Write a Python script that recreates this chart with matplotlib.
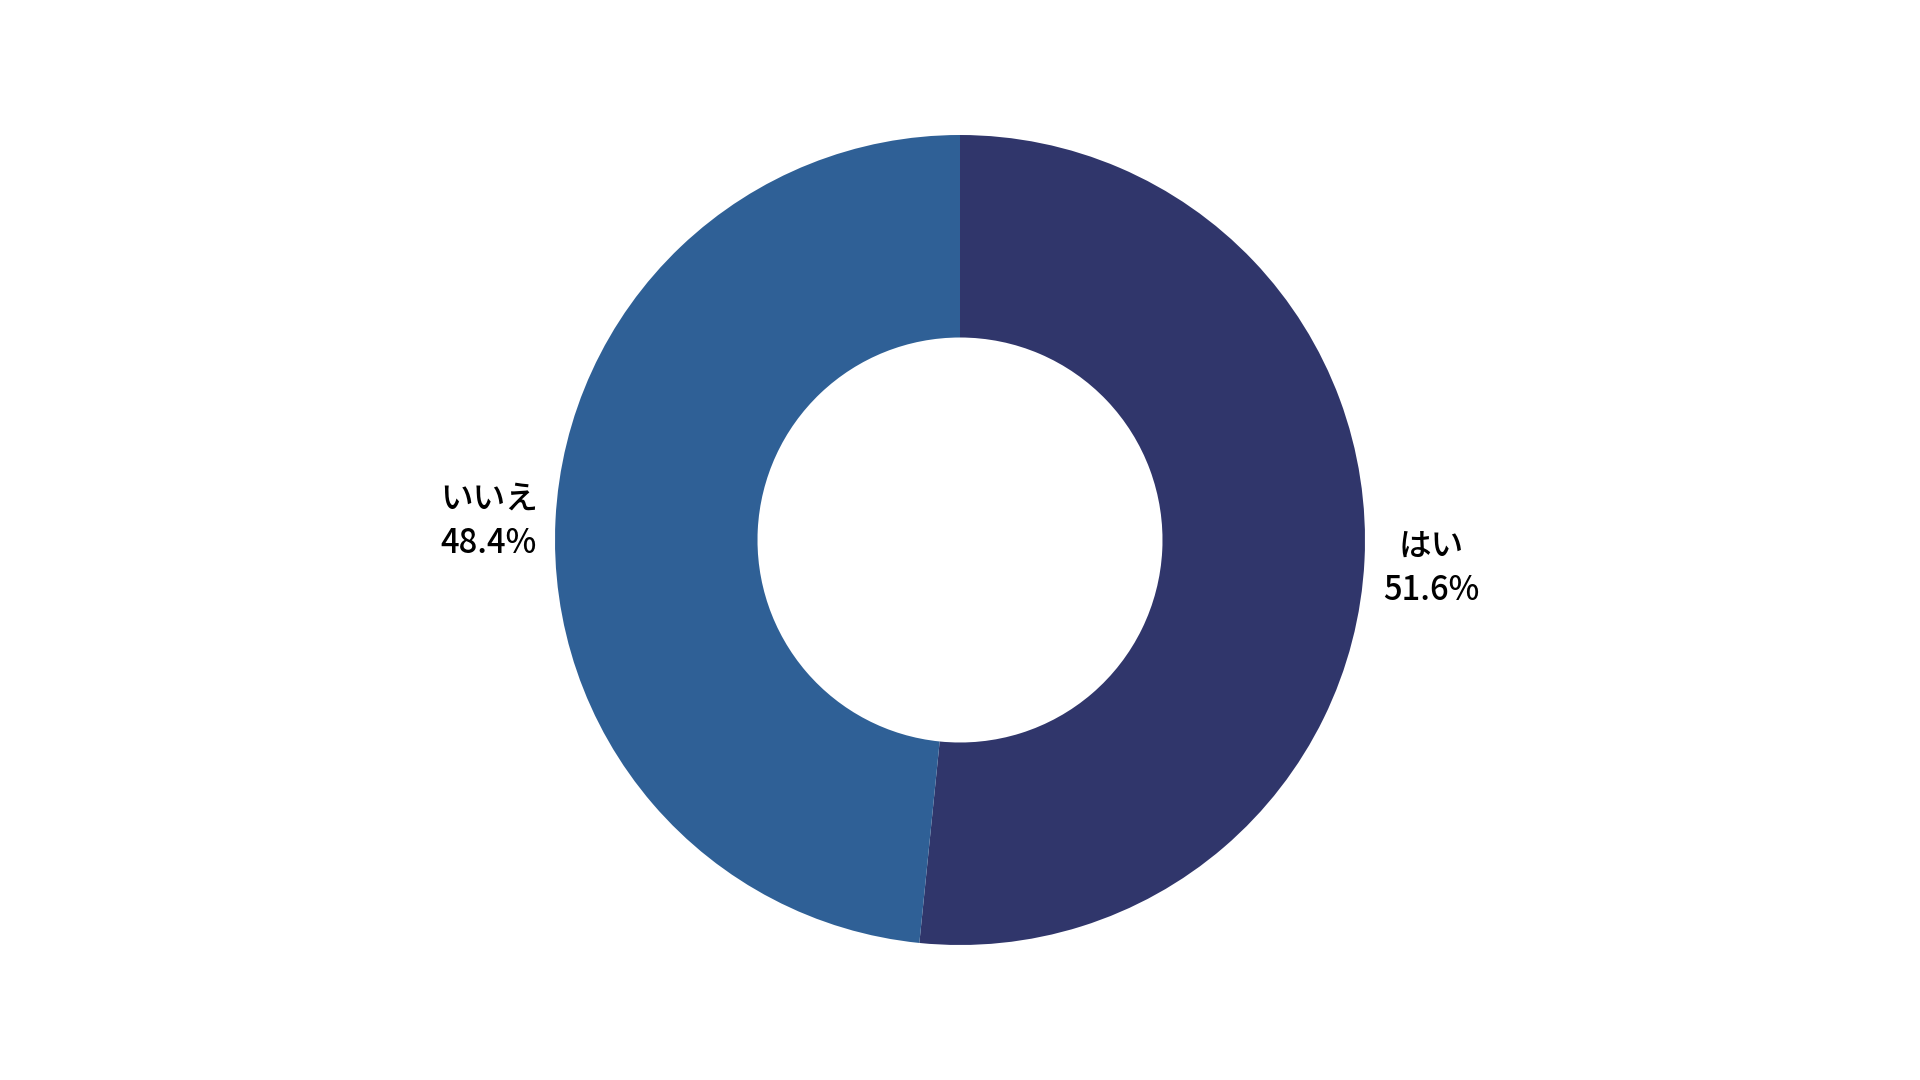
import matplotlib.pyplot as plt

plt.rcParams['font.family'] = ['Noto Sans CJK JP', 'DejaVu Sans']

labels = ["はい", "いいえ"]
shares = [51.6, 48.4]
colors = ["#30366b", "#2f6096"]

fig = plt.figure(figsize=(19.2, 10.8), dpi=100)
ax = fig.add_axes([0, 0, 1, 1])

radius_px = 405
wedges, texts = ax.pie(
    shares,
    labels=[f"{l}\n{s:.1f}%" for l, s in zip(labels, shares)],
    colors=colors,
    startangle=90,
    counterclock=False,
    labeldistance=1.165,
    wedgeprops=dict(width=0.5, linewidth=0),
    textprops=dict(fontsize=23.5, color="#000000", fontweight="medium"),
)
for t in texts:
    t.set_horizontalalignment("center")
    t.set_verticalalignment("center")
    t.set_linespacing(1.35)
    x, y = t.get_position()
    t.set_position((x, y - 5 / radius_px))

ax.set_xlim(-960 / radius_px, 960 / radius_px)
ax.set_ylim(-540 / radius_px, 540 / radius_px)
ax.set_aspect("equal")
ax.axis("off")

fig.savefig("out.png", dpi=100, facecolor="white")
